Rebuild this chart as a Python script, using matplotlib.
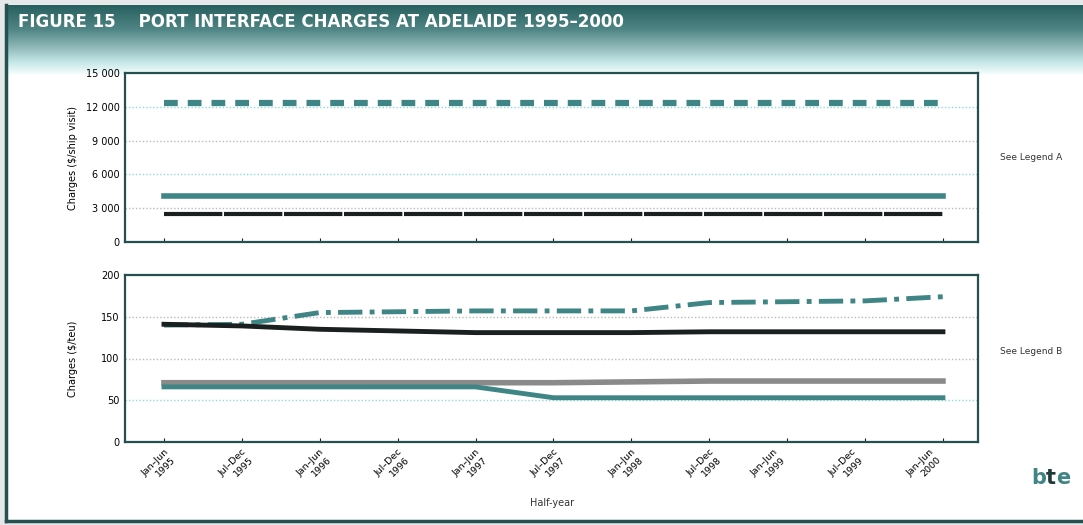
import numpy as np
import matplotlib
matplotlib.use("Agg")
import matplotlib.pyplot as plt
from matplotlib.colors import LinearSegmentedColormap

# Half-year periods
periods = ["Jan–Jun\n1995", "Jul–Dec\n1995", "Jan–Jun\n1996", "Jul–Dec\n1996",
           "Jan–Jun\n1997", "Jul–Dec\n1997", "Jan–Jun\n1998", "Jul–Dec\n1998",
           "Jan–Jun\n1999", "Jul–Dec\n1999", "Jan–Jun\n2000"]

# Panel A: $/ship visit
ship_dashed = [12300] * 11
ship_teal = [4100] * 11
ship_black = [2500] * 11

# Panel B: $/teu
teu_dashdot = [140, 141, 155, 156, 157, 157, 157, 167, 168, 169, 174]
teu_black = [141, 139, 135, 133, 131, 131, 131, 132, 132, 132, 132]
teu_grey = [71, 71, 71, 71, 71, 71, 72, 73, 73, 73, 73]
teu_teal = [66, 66, 66, 66, 66, 53, 53, 53, 53, 53, 53]

TEAL = "#3f8585"
DARK = "#1a1f1f"
GREY = "#8a8a8a"
SPINE = "#25504f"

W, H = 1083, 525
fig = plt.figure(figsize=(W / 100, H / 100), dpi=100)
fig.patch.set_facecolor("#e4e8e9")

# background: header gradient + white body
bg = fig.add_axes([0, 0, 1, 1])
bg.set_xlim(0, W)
bg.set_ylim(H, 0)
bg.axis("off")
bg.fill_between([6, W], 5, 521, color="white", zorder=0)
cmap = LinearSegmentedColormap.from_list(
    "hdr", [(0, "#285f5f"), (0.35, "#4f8585"), (0.6, "#8db6b6"),
            (0.82, "#c2e6e6"), (1, "#f4fcfc")])
grad = np.linspace(0, 1, 200).reshape(-1, 1)
bg.imshow(grad, cmap=cmap, aspect="auto", extent=[6, W, 74, 5], zorder=1)
bg.plot([6, 6], [5, 521], color=SPINE, lw=2.5, zorder=2)
bg.plot([6, W], [521, 521], color=SPINE, lw=2.5, zorder=2)
bg.text(18, 22, "FIGURE 15    PORT INTERFACE CHARGES AT ADELAIDE 1995–2000",
        color="white", fontsize=12, fontweight="bold", va="center", ha="left", zorder=3)
bg.text(1000, 158, "See Legend A", fontsize=6.5, color="#333333", va="center")
bg.text(1000, 352, "See Legend B", fontsize=6.5, color="#333333", va="center")
bg.text(1031, 478, "b", fontsize=15, color=TEAL, fontweight="bold", va="center", ha="left")
bg.text(1046, 478, "t", fontsize=15, color="#1f3a3a", fontweight="bold", va="center", ha="left")
bg.text(1056, 478, "e", fontsize=15, color=TEAL, fontweight="bold", va="center", ha="left")
bg.text(552, 503, "Half-year", fontsize=7, color="#333333", ha="center", va="center")

x = np.arange(len(periods))

ax1 = fig.add_axes([125 / W, 1 - 242 / H, (978 - 125) / W, (242 - 73) / H])
ax2 = fig.add_axes([125 / W, 1 - 442 / H, (978 - 125) / W, (442 - 275) / H])

ax1.plot(x, ship_dashed, color=TEAL, lw=4.5, dashes=(2.2, 1.6), solid_capstyle="round")
ax1.plot(x, ship_teal, color=TEAL, lw=4)
ax1.plot(x, ship_black, color=DARK, lw=3, dashes=(14, 0.4))
ax1.set_ylim(0, 15000)
ax1.set_yticks([0, 3000, 6000, 9000, 12000, 15000])
ax1.set_yticklabels(["0", "3 000", "6 000", "9 000", "12 000", "15 000"])
ax1.set_ylabel("Charges ($/ship visit)", fontsize=7)
ax1.set_xticklabels([])

ax2.plot(x, teu_dashdot, color=TEAL, lw=3.5, dashes=(5, 1.5, 1, 1.5))
ax2.plot(x, teu_black, color=DARK, lw=3.5)
ax2.plot(x, teu_grey, color=GREY, lw=4)
ax2.plot(x, teu_teal, color=TEAL, lw=3.5)
ax2.set_ylim(0, 200)
ax2.set_yticks([0, 50, 100, 150, 200])
ax2.set_ylabel("Charges ($/teu)", fontsize=7)
ax2.set_xticklabels(periods, rotation=45, ha="right", rotation_mode="anchor",
                    fontsize=6.8, multialignment="right")

for ax, grid_cols in ((ax1, ["#bbbbbb", "#8fdada", "#bbbbbb", "#8fdada", "#bbbbbb"]),
                      (ax2, ["#8fdada", "#bbbbbb", "#bbbbbb"])):
    ax.set_xlim(-0.5, 10.45)
    ax.set_xticks(x)
    ax.tick_params(axis="x", direction="in", length=3, color=DARK, pad=4)
    ax.tick_params(axis="y", length=0, labelsize=7, pad=4)
    for s in ax.spines.values():
        s.set_color(SPINE)
        s.set_linewidth(1.6)
    ticks = ax.get_yticks()[1:-1]
    for t, c in zip(ticks, grid_cols):
        ax.axhline(t, color=c, lw=1, ls=(0, (1, 1.5)), zorder=0)
    ax.yaxis.set_label_coords(-0.055, 0.5)

fig.savefig("out.png", dpi=100, facecolor=fig.get_facecolor())
